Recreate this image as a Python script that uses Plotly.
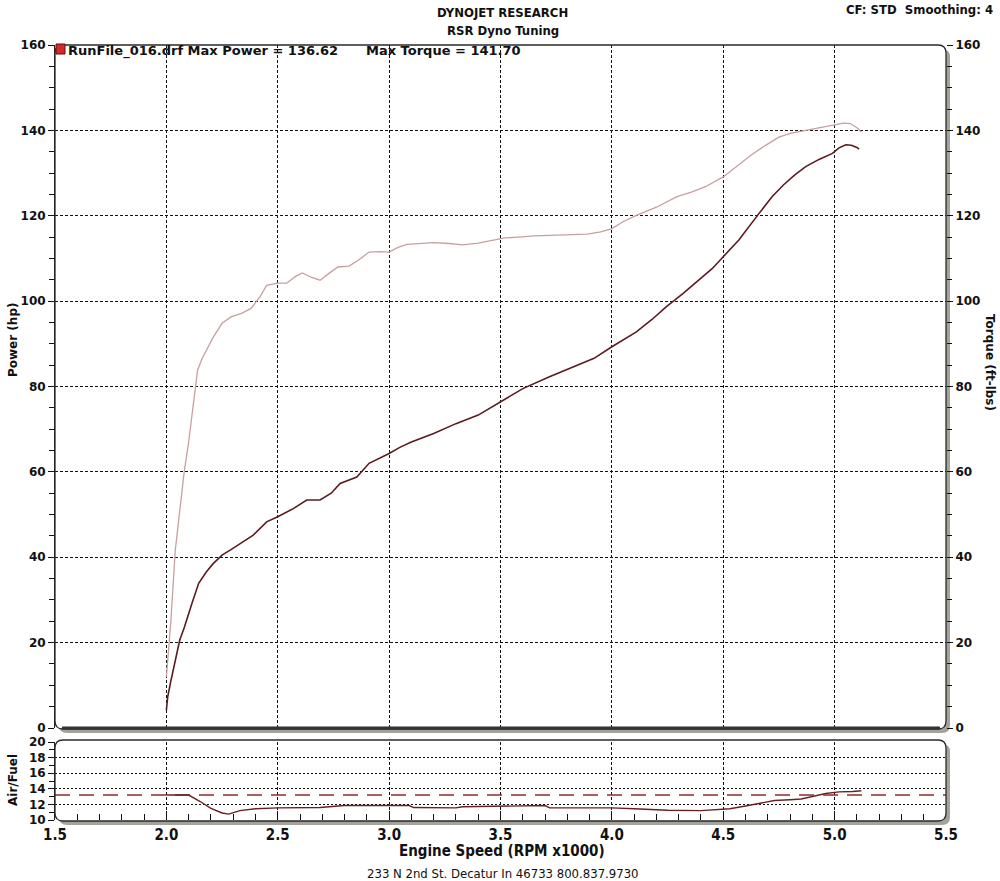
import plotly.graph_objects as go

# ---------------- data ----------------
torque_rpm = [2.00, 2.02, 2.04, 2.06, 2.08, 2.10, 2.12, 2.14, 2.16, 2.175, 2.21, 2.25, 2.29, 2.34,
              2.38, 2.42, 2.45, 2.50, 2.54, 2.58, 2.61, 2.65, 2.69, 2.73, 2.77, 2.82, 2.86, 2.91,
              2.96, 3.00, 3.04, 3.08, 3.14, 3.20, 3.27, 3.33, 3.40, 3.46, 3.52, 3.58, 3.65, 3.72,
              3.80, 3.89, 3.95, 4.00, 4.05, 4.11, 4.20, 4.29, 4.36, 4.42, 4.50, 4.57, 4.63, 4.69,
              4.75, 4.80, 4.85, 4.90, 4.95, 4.99, 5.04, 5.07, 5.10, 5.12]
torque_val = [12, 25, 41.7, 51, 60, 67, 76, 83.8, 86.5, 88, 91.5, 94.8, 96.3, 97.2,
              98.3, 101, 103.7, 104.2, 104.2, 105.8, 106.6, 105.6, 104.9, 106.5, 108, 108.2, 109.5, 111.5,
              111.6, 111.5, 112.6, 113.3, 113.5, 113.7, 113.5, 113.2, 113.6, 114.2, 114.8, 115.0, 115.3, 115.4,
              115.5, 115.7, 116.2, 117.0, 118.6, 120.1, 122.0, 124.4, 125.6, 126.8, 129.1, 131.9, 134.4, 136.5,
              138.4, 139.3, 139.8, 140.4, 140.9, 141.3, 141.70, 141.6, 140.6, 139.6]

power_rpm = [2.00, 2.006, 2.02, 2.04, 2.06, 2.08, 2.10, 2.115, 2.145, 2.18, 2.21, 2.25, 2.29, 2.33,
             2.39, 2.45, 2.50, 2.57, 2.63, 2.69, 2.74, 2.78, 2.855, 2.91, 3.00, 3.05, 3.10, 3.20,
             3.30, 3.40, 3.50, 3.60, 3.72, 3.82, 3.92, 4.00, 4.05, 4.11, 4.18, 4.245, 4.32, 4.39,
             4.45, 4.50, 4.57, 4.66, 4.72, 4.77, 4.82, 4.87, 4.93, 4.99, 5.02, 5.05, 5.075, 5.10, 5.11]
power_val = [4.2, 7.3, 11, 15.9, 20.6, 23.5, 26.5, 29.2, 33.9, 36.6, 38.5, 40.5, 41.8, 43.2,
             45.2, 48.3, 49.5, 51.4, 53.4, 53.4, 55.0, 57.3, 58.8, 62.0, 64.3, 65.8, 67.0, 69.0,
             71.3, 73.3, 76.5, 79.5, 82.3, 84.5, 86.6, 89.3, 90.8, 92.8, 95.7, 98.7, 101.8, 104.9,
             107.6, 110.4, 114.3, 120.5, 124.5, 127.2, 129.5, 131.5, 133.2, 134.6, 135.9, 136.62, 136.5, 136.0, 135.6]

afr_rpm = [2.00, 2.10, 2.15, 2.20, 2.25, 2.28, 2.33, 2.40, 2.50, 2.69, 2.80, 3.09, 3.11, 3.30,
           3.33, 3.50, 3.70, 3.72, 4.00, 4.10, 4.25, 4.40, 4.48, 4.53, 4.60, 4.65, 4.73, 4.80,
           4.85, 4.96, 5.02, 5.08, 5.12]
afr_val = [13.2, 13.2, 12.4, 11.5, 10.9, 10.75, 11.2, 11.45, 11.55, 11.6, 11.85, 11.85, 11.6, 11.55,
           11.7, 11.8, 11.85, 11.55, 11.55, 11.45, 11.25, 11.2, 11.3, 11.45, 11.8, 12.1, 12.5, 12.6,
           12.7, 13.4, 13.6, 13.65, 13.75]
afr_target = 13.2

x_ticks = [1.5, 2.0, 2.5, 3.0, 3.5, 4.0, 4.5, 5.0, 5.5]
main_ticks = [0, 20, 40, 60, 80, 100, 120, 140, 160]
afr_ticks = [10, 12, 14, 16, 18, 20]

run_name = "RunFile_016.drf"

# ---------------- layout geometry ----------------
W, H = 1000, 881
ML, MR, MT, MB = 55, 54, 45, 61
PW, PH = W - ML - MR, H - MT - MB


def px2x(px):
    return (px - ML) / PW


def px2y(py):
    return (H - MB - py) / PH


def rrect(x0, y0, x1, y1, r):
    """rounded rectangle path in paper coords, from pixel corners"""
    X = px2x
    Y = px2y
    return (f"M {X(x0 + r)},{Y(y0)} L {X(x1 - r)},{Y(y0)} Q {X(x1)},{Y(y0)} {X(x1)},{Y(y0 + r)} "
            f"L {X(x1)},{Y(y1 - r)} Q {X(x1)},{Y(y1)} {X(x1 - r)},{Y(y1)} "
            f"L {X(x0 + r)},{Y(y1)} Q {X(x0)},{Y(y1)} {X(x0)},{Y(y1 - r)} "
            f"L {X(x0)},{Y(y0 + r)} Q {X(x0)},{Y(y0)} {X(x0 + r)},{Y(y0)} Z")


main_dom = [px2y(728), 1.0]
afr_dom = [0.0, px2y(742)]

COND = "DejaVu Sans Condensed, Liberation Sans Narrow, Arial Narrow, sans-serif"
BOLD = "DejaVu Sans, Verdana, sans-serif"

fig = go.Figure()
fig.add_trace(go.Scatter(x=torque_rpm, y=torque_val, mode="lines", line=dict(color="#c7a0a0", width=1.3),
                         xaxis="x", yaxis="y3", showlegend=False))
fig.add_trace(go.Scatter(x=power_rpm, y=power_val, mode="lines", line=dict(color="#5a1c20", width=1.6),
                         xaxis="x", yaxis="y", showlegend=False))
fig.add_trace(go.Scatter(x=[x_ticks[0], x_ticks[-1]], y=[afr_target, afr_target], mode="lines",
                         line=dict(color="#8e2c2c", width=1.6, dash="15px,9px"),
                         xaxis="x2", yaxis="y2", showlegend=False))
fig.add_trace(go.Scatter(x=afr_rpm, y=afr_val, mode="lines", line=dict(color="#6a1f22", width=1.4),
                         xaxis="x2", yaxis="y2", showlegend=False))

grid = dict(showgrid=True, gridcolor="#111111", gridwidth=1, griddash="3px,2px")
tickfont = dict(family=BOLD, size=12, color="#111111", weight="bold")

fig.update_layout(
    width=W, height=H,
    margin=dict(l=ML, r=MR, t=MT, b=MB, autoexpand=False),
    paper_bgcolor="white", plot_bgcolor="white",
    xaxis=dict(domain=[0, 1], range=[1.5, 5.5], tickvals=x_ticks[1:-1], showticklabels=False,
               ticks="", zeroline=False, showline=False, anchor="y", **grid),
    yaxis=dict(domain=main_dom, range=[0, 160], tickvals=main_ticks, ticks="outside", ticklen=6,
               tickcolor="#111", tickfont=tickfont, zeroline=False, showline=True, linecolor="#222",
               minor=dict(dtick=5, ticks="outside", ticklen=5, tickcolor="#111", showgrid=False),
               anchor="x", **grid),
    yaxis3=dict(range=[0, 160], tickvals=main_ticks, overlaying="y", side="right", anchor="x",
                ticks="outside", ticklen=6, tickcolor="#111", tickfont=tickfont, showgrid=False,
                zeroline=False, showline=False,
                minor=dict(dtick=5, ticks="outside", ticklen=5, tickcolor="#111")),
    xaxis2=dict(domain=[0, 1], range=[1.5, 5.5], tickvals=x_ticks, ticktext=[f"{v:.1f}" for v in x_ticks],
                ticks="inside", ticklen=9, tickcolor="#111", anchor="y2", zeroline=False, showline=False,
                tickfont=dict(family=COND, size=15, color="#111", weight="bold"), ticklabelstandoff=4,
                minor=dict(dtick=0.1, ticks="inside", ticklen=6, tickcolor="#111", showgrid=False),
                **grid),
    yaxis2=dict(domain=afr_dom, range=[10, 20], tickvals=afr_ticks, ticks="outside", ticklen=6,
                tickcolor="#111", tickfont=tickfont, zeroline=False, showline=True, linecolor="#222",
                anchor="x2", showgrid=True, gridcolor="#111111", griddash="2px,2px",
                minor=dict(dtick=1, ticks="outside", ticklen=5, tickcolor="#111", showgrid=False)),
)

shapes = []
# shadows
shapes.append(dict(type="path", path=rrect(59, 49, 950, 733, 8), xref="paper", yref="paper",
                   fillcolor="#a3a39a", line=dict(width=0), layer="below"))
shapes.append(dict(type="path", path=rrect(59, 744, 950, 825, 8), xref="paper", yref="paper",
                   fillcolor="#a3a39a", line=dict(width=0), layer="below"))
# white box faces
shapes.append(dict(type="path", path=rrect(55, 45, 946, 729, 8), xref="paper", yref="paper",
                   fillcolor="white", line=dict(width=0), layer="below"))
shapes.append(dict(type="path", path=rrect(55, 740, 946, 821, 8), xref="paper", yref="paper",
                   fillcolor="white", line=dict(width=0), layer="below"))
# borders
shapes.append(dict(type="path", path=rrect(55, 45, 946, 729, 8), xref="paper", yref="paper",
                   line=dict(color="#2a2a2a", width=1.3), layer="above"))
shapes.append(dict(type="path", path=rrect(55, 740, 946, 821, 8), xref="paper", yref="paper",
                   line=dict(color="#2a2a2a", width=1.3), layer="above"))
# thick bottom edge of the main box
shapes.append(dict(type="line", x0=px2x(62), x1=px2x(940), y0=px2y(728), y1=px2y(728), xref="paper",
                   yref="paper", line=dict(color="#333333", width=3), layer="above"))
# legend swatch
shapes.append(dict(type="rect", x0=px2x(56), x1=px2x(65), y0=px2y(54), y1=px2y(44), xref="paper",
                   yref="paper", fillcolor="#d42a2a", line=dict(color="#5a1010", width=1), layer="above"))
fig.update_layout(shapes=shapes)


def ann(text, px, py, size=12, family=BOLD, angle=0, xanchor="center", weight="bold"):
    return dict(text=text, x=px2x(px), y=px2y(py), xref="paper", yref="paper", showarrow=False,
                xanchor=xanchor, yanchor="middle", textangle=angle,
                font=dict(family=family, size=size, color="#111111", weight=weight))


max_power = max(power_val)
max_torque = max(torque_val)
annotations = [
    ann("DYNOJET RESEARCH", 502, 12, size=13, family=COND),
    ann("RSR Dyno Tuning", 503, 30, size=13, family=COND),
    ann("CF: STD&nbsp;&nbsp;Smoothing: 4", 995, 9, size=13, family=COND, xanchor="right"),
    ann(f"{run_name} Max Power = {max_power:.2f}", 66, 51, size=13, xanchor="left"),
    ann(f"Max Torque = {max_torque:.2f}", 364, 51, size=13, xanchor="left"),
    ann("Power (hp)", 13, 340, size=12, angle=-90),
    ann("Torque (ft-lbs)", 990, 362, size=12, angle=90),
    ann("Air/Fuel", 13, 780, size=12, angle=-90),
    ann("Engine Speed (RPM x1000)", 502, 851, size=15, family=COND),
    ann("233 N 2nd St. Decatur In 46733 800.837.9730", 503, 874, size=13, family=COND, weight="normal"),
]
fig.update_layout(annotations=annotations)

fig.write_html("out.html", config={"displayModeBar": False},
               post_script="document.body.style.margin='0';document.body.style.padding='0';")
